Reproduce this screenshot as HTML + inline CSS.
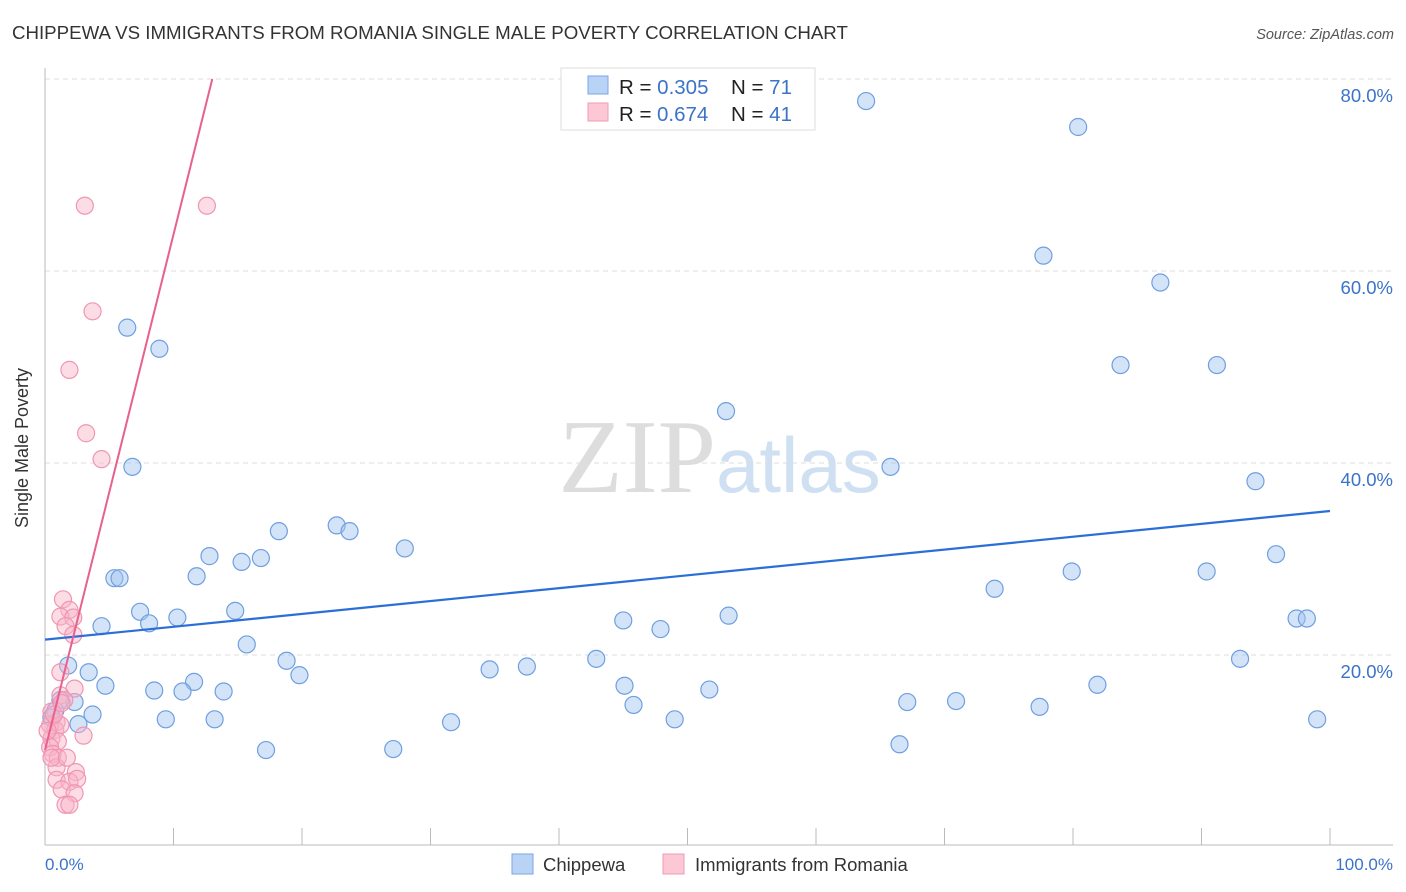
<!DOCTYPE html>
<html><head><meta charset="utf-8"><style>
body{margin:0;background:#fff;font-family:"Liberation Sans",sans-serif}
svg{display:block}
</style></head><body>
<svg id="c" width="1406" height="892" xmlns="http://www.w3.org/2000/svg">
<text x="12" y="39" font-size="18.7" fill="#333">CHIPPEWA VS IMMIGRANTS FROM ROMANIA SINGLE MALE POVERTY CORRELATION CHART</text>
<text x="1394" y="39" font-size="14.5" fill="#555" font-style="italic" text-anchor="end">Source: ZipAtlas.com</text>
<text x="716" y="492" font-size="105" fill="#ddd" text-anchor="end" font-family="Liberation Serif,serif">ZIP</text>
<text x="716" y="492" font-size="78" fill="#cfe0f3">atlas</text>
<g id="grid"></g>
<g id="pts"></g>
<g id="lines"></g>
<text x="36" y="456" font-size="18" fill="#333" text-anchor="middle" transform="rotate(-90 28 456)">Single Male Poverty</text>
<text x="45" y="870" font-size="17" fill="#3b73c9">0.0%</text>
<text x="1393" y="870" font-size="17" fill="#3b73c9" text-anchor="end">100.0%</text>
<g>
<rect x="561" y="68" width="254" height="62" fill="#fff" stroke="#ddd"/>
<rect x="588" y="76" width="20" height="18" fill="#b9d3f5" stroke="#7aa6e6"/>
<rect x="588" y="103" width="20" height="18" fill="#fcc8d6" stroke="#f09ab4"/>
<text x="619" y="94" font-size="20.5" fill="#222">R = <tspan fill="#3b73c9">0.305</tspan><tspan x="731">N = </tspan><tspan fill="#3b73c9">71</tspan></text>
<text x="619" y="121" font-size="20.5" fill="#222">R = <tspan fill="#3b73c9" x="657">0.674</tspan><tspan x="731">N = </tspan><tspan fill="#3b73c9">41</tspan></text>
</g>
<g>
<rect x="512" y="854" width="21" height="20" fill="#b9d3f5" stroke="#7aa6e6"/>
<text x="543" y="871" font-size="18.5" fill="#333">Chippewa</text>
<rect x="663" y="854" width="21" height="20" fill="#fcc8d6" stroke="#f09ab4"/>
<text x="695" y="871" font-size="18.5" fill="#333">Immigrants from Romania</text>
</g>
</svg>
<script>
const yTicks=[20,40,60,80];
const yTickLabels=["20.0%","40.0%","60.0%","80.0%"];
const xTicks=[0,10,20,30,40,50,60,70,80,90,100];
const chipX=[63.9,80.4,77.7,86.8,6.4,8.9,83.7,91.2,53,6.8,65.8,94.2,18.2,22.7,23.7,28,12.8,15.3,16.8,95.8,11.8,5.4,5.8,79.9,90.4,73.9,7.4,14.8,10.3,8.1,4.4,53.2,45,47.9,97.4,98.2,15.7,18.8,42.9,93,1.8,3.4,34.6,37.5,19.8,11.6,81.9,4.7,45.1,8.5,10.7,51.7,70.9,2.3,13.9,45.8,67.1,77.4,1.2,0.8,3.7,9.4,13.2,2.6,31.6,49,99,66.5,17.2,27.1,0.5];
const chipY=[77.7,75,61.6,58.8,54.1,51.9,50.2,50.2,45.4,39.6,39.6,38.1,32.9,33.5,32.9,31.1,30.3,29.7,30.1,30.5,28.2,28,28,28.7,28.7,26.9,24.5,24.6,23.9,23.3,23,24.1,23.6,22.7,23.8,23.8,21.1,19.4,19.6,19.6,18.9,18.2,18.5,18.8,17.9,17.2,16.9,16.8,16.8,16.3,16.2,16.4,15.2,15.1,16.2,14.8,15.1,14.6,15.3,14.2,13.8,13.3,13.3,12.8,13,13.3,13.3,10.7,10.1,10.2,13.5];
const romX=[3.1,12.6,3.7,1.9,3.2,4.4,1.4,1.9,1.2,2.2,1.6,2.2,1.2,2.3,1.2,1.5,0.5,0.9,0.4,0.8,1.2,0.5,1,3,0.4,0.6,1,0.9,2.4,0.9,1.9,2.5,1.3,2.3,1.6,1.9,0.2,0.7,1.3,0.5,1.7];
const romY=[66.8,66.8,55.8,49.7,43.1,40.4,25.8,24.7,24,23.9,23,22.1,18.2,16.5,15.8,15.3,14.1,13,12.7,12.2,12.7,11.3,11,11.6,10.4,9.7,9.3,8.3,7.8,7,6.8,7.1,6,5.6,4.4,4.4,12.1,13.8,15,9.3,9.3];
const blueLine=[21.6,0.134];
const pinkLine=[10.1,5.37];
const X=v=>45+v*12.85, Y=v=>847-v*9.6;
const NS="http://www.w3.org/2000/svg";
function mk(t,a,p){const e=document.createElementNS(NS,t);for(const k in a)e.setAttribute(k,a[k]);p.appendChild(e);return e;}
const g=document.getElementById('grid');
yTicks.forEach((t,i)=>{
 const l=mk('line',{x1:45,x2:1393,y1:Y(t),y2:Y(t),stroke:'#ddd','stroke-dasharray':'5,4'},g);
 
 
 const tx=mk('text',{x:1393,y:Y(t)+23,'font-size':18.5,fill:'#3b73c9','text-anchor':'end'},g);
 tx.textContent=yTickLabels[i];
 
 
});
const ax=mk('line',{x1:45,x2:45,y1:68,y2:845,stroke:'#bbb'},g);


const bx=mk('line',{x1:45,x2:1393,y1:845,y2:845,stroke:'#bbb'},g);


xTicks.forEach(t=>{
 const l=mk('line',{x1:X(t),x2:X(t),y1:828,y2:845,stroke:'#bbb'},g);
 
 
});
const p=document.getElementById('pts');
chipX.forEach((v,i)=>{
 const c=mk('circle',{cx:X(v),cy:Y(chipY[i]),r:8.5,fill:'rgba(160,196,240,0.45)',stroke:'#6f9fe0','stroke-width':1.2},p);
 
 
});
romX.forEach((v,i)=>{
 const c=mk('circle',{cx:X(v),cy:Y(romY[i]),r:8.5,fill:'rgba(248,180,200,0.45)',stroke:'#f096b2','stroke-width':1.2},p);
 
 
});
const L=document.getElementById('lines');
const b=mk('line',{x1:X(0),y1:Y(blueLine[0]),x2:X(100),y2:Y(blueLine[0]+blueLine[1]*100),stroke:'#2b6fd6','stroke-width':2.2},L);


const xe=(80-pinkLine[0])/pinkLine[1];
const pl=mk('line',{x1:X(0),y1:Y(pinkLine[0]),x2:X(xe),y2:Y(80),stroke:'#e8608e','stroke-width':2},L);


</script>
</body></html>
